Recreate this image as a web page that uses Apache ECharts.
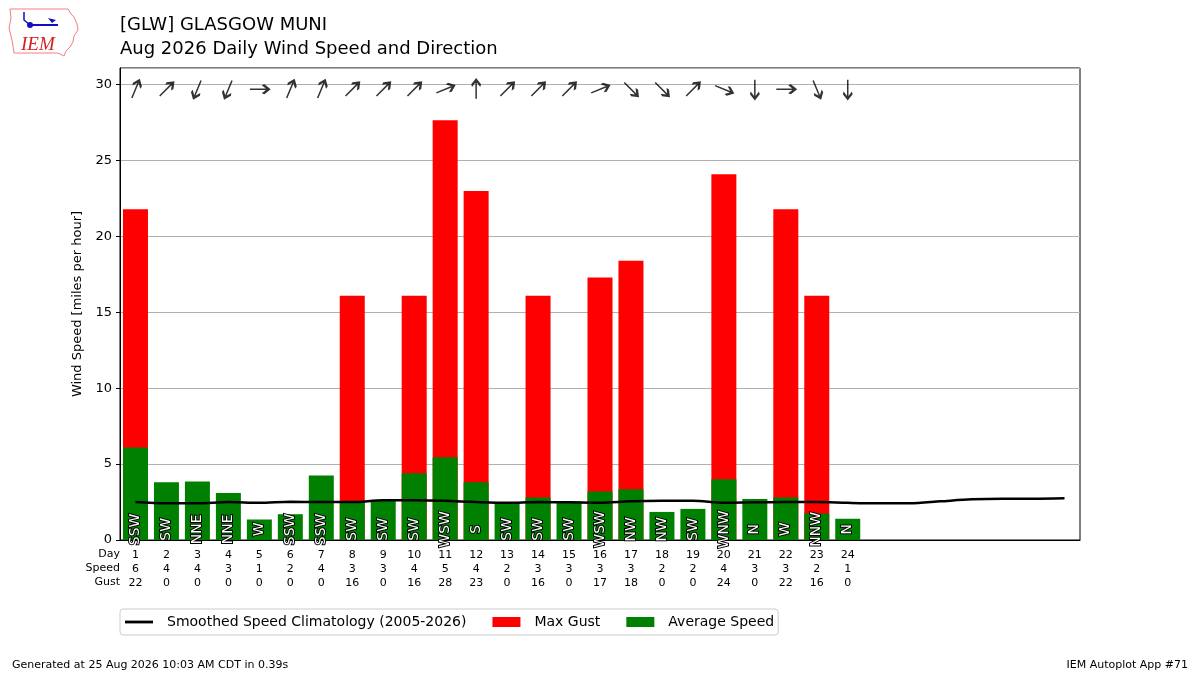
<!DOCTYPE html>
<html>
<head>
<meta charset="utf-8">
<script src="https://cdn.jsdelivr.net/npm/echarts@6/dist/echarts.min.js"></script>
<style>
html,body{margin:0;padding:0;background:#fff;}
#main{width:1200px;height:675px;}
</style>
</head>
<body>
<div id="main"></div>
<script>
// days of the month shown on the axis
var days = [];
for (var d = 1; d <= 31; d++) days.push(String(d));
// average speed (mph) per observed day
var avgSpeed = [6.1, 3.8, 3.85, 3.1, 1.35, 1.7, 4.25, 2.55, 2.6, 4.4, 5.45, 3.8,
	2.45, 2.8, 2.55, 3.2, 3.35, 1.85, 2.05, 4.0, 2.7, 2.8, 1.75, 1.4];
// max gust (mph), 0 = none
var maxGust = [21.8, 0, 0, 0, 0, 0, 0, 16.1, 0, 16.1, 27.65, 23.0,
	0, 16.1, 0, 17.3, 18.4, 0, 0, 24.1, 0, 21.8, 16.1, 0];
// rounded values for the table under the axis
var speedLbl = [6, 4, 4, 3, 1, 2, 4, 3, 3, 4, 5, 4, 2, 3, 3, 3, 3, 2, 2, 4, 3, 3, 2, 1];
var gustLbl = [22, 0, 0, 0, 0, 0, 0, 16, 0, 16, 28, 23, 0, 16, 0, 17, 18, 0, 0, 24, 0, 22, 16, 0];
// direction the wind came from
var dirText = ['SSW', 'SW', 'NNE', 'NNE', 'W', 'SSW', 'SSW', 'SW', 'SW', 'SW', 'WSW', 'S',
	'SW', 'SW', 'SW', 'WSW', 'NW', 'NW', 'SW', 'WNW', 'N', 'W', 'NNW', 'N'];
// smoothed climatology speed for every day of the month
var climo = [2.5, 2.42, 2.42, 2.5, 2.45, 2.52, 2.5, 2.5, 2.62, 2.62, 2.58, 2.5,
	2.45, 2.5, 2.48, 2.45, 2.55, 2.58, 2.58, 2.45, 2.48, 2.5, 2.5, 2.45,
	2.42, 2.42, 2.55, 2.68, 2.72, 2.72, 2.75];
var arrowLevel = 29.7;
var dirLabelLevel = 0.7;

var compass = ['N', 'NNE', 'NE', 'ENE', 'E', 'ESE', 'SE', 'SSE', 'S', 'SSW', 'SW', 'WSW', 'W', 'WNW', 'NW', 'NNW'];
function dirDeg(t) { return compass.indexOf(t) * 22.5; }

var font = 'DejaVu Sans';

var gustData = [], avgData = [], arrowData = [], dirData = [];
for (var i = 0; i < avgSpeed.length; i++) {
	gustData.push(maxGust[i]);
	avgData.push(avgSpeed[i]);
	// arrow points where the wind blows to
	arrowData.push({
		value: [i, arrowLevel],
		symbolRotate: -(dirDeg(dirText[i]) + 180)
	});
	dirData.push({value: [i, dirLabelLevel], name: dirText[i]});
}

// row titles left of the table
var rowTitles = ['Day', 'Speed', 'Gust'];
var graphics = [];
for (var r = 0; r < rowTitles.length; r++) {
	graphics.push({
		type: 'text',
		right: 1200 - 120, top: 549 + r * 14,
		style: {text: rowTitles[r], font: '11px "DejaVu Sans"', fill: '#000'}
	});
}
// rough IEM logo (state outline + station symbol)
graphics.push({
	type: 'polygon',
	shape: {points: [[10, 9], [68, 9], [71, 14], [74, 17], [77, 24], [78, 30], [74, 36], [73, 42], [70, 47], [66, 51], [64, 56], [58, 53], [14, 53], [12, 40], [9, 28], [11, 18]]},
	style: {fill: 'none', stroke: '#f08080', lineWidth: 1}
});
graphics.push({
	type: 'polyline',
	shape: {points: [[30, 25], [58, 25]]},
	style: {stroke: '#1010c0', lineWidth: 2}
});
graphics.push({
	type: 'polyline',
	shape: {points: [[24, 12], [24, 20], [30, 25]]},
	style: {stroke: '#1010c0', lineWidth: 1.5, fill: 'none'}
});
graphics.push({
	type: 'polygon',
	shape: {points: [[48, 18], [56, 20], [52, 23]]},
	style: {fill: '#1010c0'}
});
graphics.push({
	type: 'circle',
	shape: {cx: 30, cy: 25, r: 3},
	style: {fill: '#1010c0'}
});

var myChart = echarts.init(document.getElementById('main'));
var option = {
	animation: false,
	backgroundColor: '#fff',
	textStyle: {fontFamily: font},
	title: [{
		text: '[GLW] GLASGOW MUNI\nAug 2026 Daily Wind Speed and Direction',
		left: 120, top: 13, padding: 0,
		textStyle: {fontFamily: font, fontSize: 18, fontWeight: 'normal', color: '#000', lineHeight: 24}
	}, {
		text: 'Generated at 25 Aug 2026 10:03 AM CDT in 0.39s',
		left: 12, top: 660, padding: 0,
		textStyle: {fontFamily: font, fontSize: 11, fontWeight: 'normal', color: '#000'}
	}, {
		text: 'IEM Autoplot App #71',
		right: 12, top: 660, padding: 0,
		textStyle: {fontFamily: font, fontSize: 11, fontWeight: 'normal', color: '#000'}
	}, {
		text: 'IEM',
		left: 21, top: 35, padding: 0,
		textStyle: {fontFamily: 'Liberation Serif', fontSize: 19, fontStyle: 'italic', fontWeight: 'normal', color: '#d42020'}
	}],
	graphic: graphics,
	legend: {
		left: 120, top: 609,
		orient: 'horizontal',
		data: [
			{name: 'Smoothed Speed Climatology (2005-2026)', icon: 'path://M0,0 L30,0 L30,3 L0,3 Z'},
			{name: 'Max Gust', icon: 'rect'},
			{name: 'Average Speed', icon: 'rect'}
		],
		itemWidth: 28, itemHeight: 10, itemGap: 26,
		padding: [6, 4, 6, 5],
		borderColor: '#ccc', borderWidth: 1, borderRadius: 3,
		textStyle: {fontFamily: font, fontSize: 14, color: '#000', padding: [0, 0, 0, 9]}
	},
	grid: {
		left: 120, right: 120, top: 68, bottom: 135,
		show: true, borderColor: '#000', borderWidth: 1, backgroundColor: 'transparent'
	},
	xAxis: {
		type: 'category',
		data: days,
		boundaryGap: true,
		axisLine: {lineStyle: {color: '#000'}},
		axisTick: {
			alignWithLabel: true, length: 4,
			lineStyle: {color: '#000'},
			interval: function (idx) { return idx < avgSpeed.length; }
		},
		axisLabel: {
			interval: 0, margin: 8,
			fontFamily: font, fontSize: 11, color: '#000', lineHeight: 14,
			formatter: function (v, idx) {
				if (idx >= avgSpeed.length) return '';
				return v + '\n' + speedLbl[idx] + '\n' + gustLbl[idx];
			}
		},
		splitLine: {show: false}
	},
	yAxis: {
		type: 'value',
		min: 0, max: 31.1, interval: 5,
		name: 'Wind Speed [miles per hour]',
		nameLocation: 'middle', nameGap: 34,
		nameTextStyle: {fontFamily: font, fontSize: 13, color: '#000'},
		axisLine: {show: true, lineStyle: {color: '#000'}},
		axisTick: {show: true, length: 4, lineStyle: {color: '#000'}},
		axisLabel: {fontFamily: font, fontSize: 13, color: '#000', margin: 8, showMaxLabel: false},
		splitLine: {show: true, lineStyle: {color: '#b0b0b0', width: 1}}
	},
	series: [{
		name: 'Max Gust',
		type: 'bar',
		data: gustData,
		barWidth: 25,
		barGap: '-100%',
		itemStyle: {color: '#ff0000'},
		z: 2
	}, {
		name: 'Average Speed',
		type: 'bar',
		data: avgData,
		barWidth: 25,
		itemStyle: {color: '#008000'},
		z: 3
	}, {
		name: 'Smoothed Speed Climatology (2005-2026)',
		type: 'line',
		data: climo,
		smooth: 0.3,
		symbol: 'none',
		lineStyle: {color: '#000', width: 2.5},
		itemStyle: {color: '#000'},
		z: 4
	}, {
		name: 'dirLabels',
		type: 'scatter',
		data: dirData,
		symbolSize: 1,
		itemStyle: {color: '#008000', opacity: 1},
		label: {
			show: true,
			position: 'inside',
			formatter: '{b}',
			rotate: 90,
			align: 'center',
			verticalAlign: 'middle',
			fontFamily: font, fontSize: 14,
			color: '#ffffff',
			opacity: 1,
			textBorderColor: '#000', textBorderWidth: 2
		},
		silent: true,
		z: 6
	}, {
		name: 'arrows',
		type: 'scatter',
		data: arrowData,
		symbol: 'path://M5,24 L5,2 M0,8 L5,1 L10,8',
		symbolSize: [9, 19],
		itemStyle: {color: 'none', borderColor: '#000', borderWidth: 2.2},
		silent: true,
		z: 5
	}]
};
myChart.setOption(option);
</script>
</body>
</html>
